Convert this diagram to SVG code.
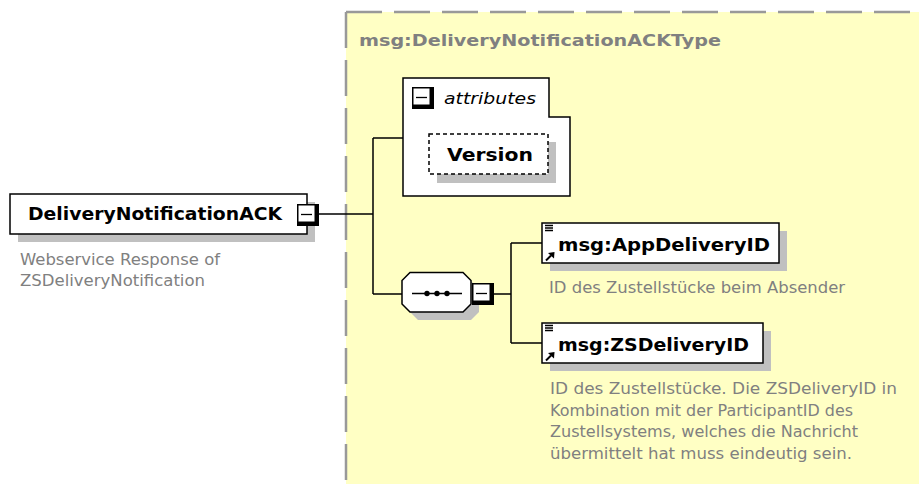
<svg xmlns="http://www.w3.org/2000/svg" width="919" height="484" viewBox="0 0 919 484">
<style>
.bx{fill:#fff;stroke:#000;stroke-width:1.5}
.sh{fill:#c0c0c0;stroke:none}
.ln{fill:none;stroke:#000;stroke-width:1.5}
.lb{font-family:"DejaVu Sans",sans-serif;font-weight:bold;font-size:18px;fill:#000}
.ds{font-family:"DejaVu Sans",sans-serif;font-size:16px;fill:#808080}
.ty{font-family:"DejaVu Sans",sans-serif;font-weight:bold;font-size:16.5px;fill:#808080}
.bd{fill:none;stroke:#999;stroke-width:2.5;stroke-dasharray:36 12}
</style>
<defs>
<g id="ico">
<path d="M3,2.5h8M3,5h8M3,7.5h8" stroke="#000" stroke-width="1.3"/>
<path d="M4,37.5L9,32.5" stroke="#000" stroke-width="2"/>
<polygon points="12.5,29 12,35.5 6,30" fill="#000"/>
</g>
<g id="mb">
<rect x="0" y="0" width="22" height="22" fill="#000"/>
<rect x="1.5" y="1.5" width="16" height="16" fill="#fff"/>
<path d="M4,10.5h11" stroke="#000" stroke-width="1.3"/>
</g>
</defs>
<rect width="919" height="484" fill="#fff"/>
<g id="type-area">
<rect x="346" y="12" width="573" height="472" fill="#ffffc4"/>
<path class="bd" d="M346,12H919"/>
<path class="bd" d="M346,12V484"/>
<text class="ty" x="359" y="46" textLength="362" lengthAdjust="spacingAndGlyphs">msg:DeliveryNotificationACKType</text>
</g>
<g id="connectors">
<path class="ln" d="M318,214H373M373,138V294M373,138H403M373,294H402"/>
<path class="ln" d="M494,294H511M511,243V343M511,243H542M511,343H542"/>
</g>
<g id="root">
<rect class="sh" x="18" y="202" width="297" height="40"/>
<rect class="bx" x="10" y="194" width="297" height="40"/>
<text class="lb" x="28" y="220" textLength="254" lengthAdjust="spacingAndGlyphs">DeliveryNotificationACK</text>
<use href="#mb" x="297" y="204"/>
<text class="ds" x="20" y="265" textLength="200" lengthAdjust="spacingAndGlyphs">Webservice Response of</text>
<text class="ds" x="20" y="286" textLength="185" lengthAdjust="spacingAndGlyphs">ZSDeliveryNotification</text>
</g>
<g id="attributes">
<polygon class="bx" points="403,78 549,78 549,117 570,117 570,196 403,196"/>
<use href="#mb" x="412" y="87"/>
<text x="444" y="104" font-family="DejaVu Sans, sans-serif" font-style="italic" font-size="16.5" textLength="92" lengthAdjust="spacingAndGlyphs">attributes</text>
<rect class="sh" x="437" y="142" width="119" height="41"/>
<rect x="429" y="134" width="119" height="40" fill="#fff" stroke="#000" stroke-width="1.5" stroke-dasharray="4 3"/>
<text class="lb" x="447" y="161" textLength="86" lengthAdjust="spacingAndGlyphs">Version</text>
</g>
<g id="sequence">
<polygon class="sh" points="418,281 471,281 479,289 479,312 471,320 418,320 410,312 410,289"/>
<polygon class="bx" points="410,272.5 463,272.5 471,280.5 471,304 463,312 410,312 402,304 402,280.5"/>
<path d="M412,293.5H462" stroke="#000" stroke-width="1.5"/>
<circle cx="427" cy="293.5" r="2.7"/>
<circle cx="437" cy="293.5" r="2.7"/>
<circle cx="447" cy="293.5" r="2.7"/>
<use href="#mb" x="472" y="283"/>
</g>
<g id="AppDeliveryID">
<rect class="sh" x="550" y="231" width="237" height="40"/>
<rect class="bx" x="542" y="223" width="237" height="40"/>
<use href="#ico" x="542" y="223"/>
<text class="lb" x="558" y="251" textLength="212" lengthAdjust="spacingAndGlyphs">msg:AppDeliveryID</text>
<text class="ds" x="549" y="293" textLength="296" lengthAdjust="spacingAndGlyphs">ID des Zustellstücke beim Absender</text>
</g>
<g id="ZSDeliveryID">
<rect class="sh" x="550" y="331" width="221" height="40"/>
<rect class="bx" x="542" y="323" width="221" height="40"/>
<use href="#ico" x="542" y="323"/>
<text class="lb" x="558" y="351" textLength="191" lengthAdjust="spacingAndGlyphs">msg:ZSDeliveryID</text>
<text class="ds" x="550" y="394" textLength="347" lengthAdjust="spacingAndGlyphs">ID des Zustellstücke. Die ZSDeliveryID in</text>
<text class="ds" x="550" y="416" textLength="303" lengthAdjust="spacingAndGlyphs">Kombination mit der ParticipantID des</text>
<text class="ds" x="550" y="437" textLength="308" lengthAdjust="spacingAndGlyphs">Zustellsystems, welches die Nachricht</text>
<text class="ds" x="550" y="459" textLength="302" lengthAdjust="spacingAndGlyphs">übermittelt hat muss eindeutig sein.</text>
</g>
</svg>
